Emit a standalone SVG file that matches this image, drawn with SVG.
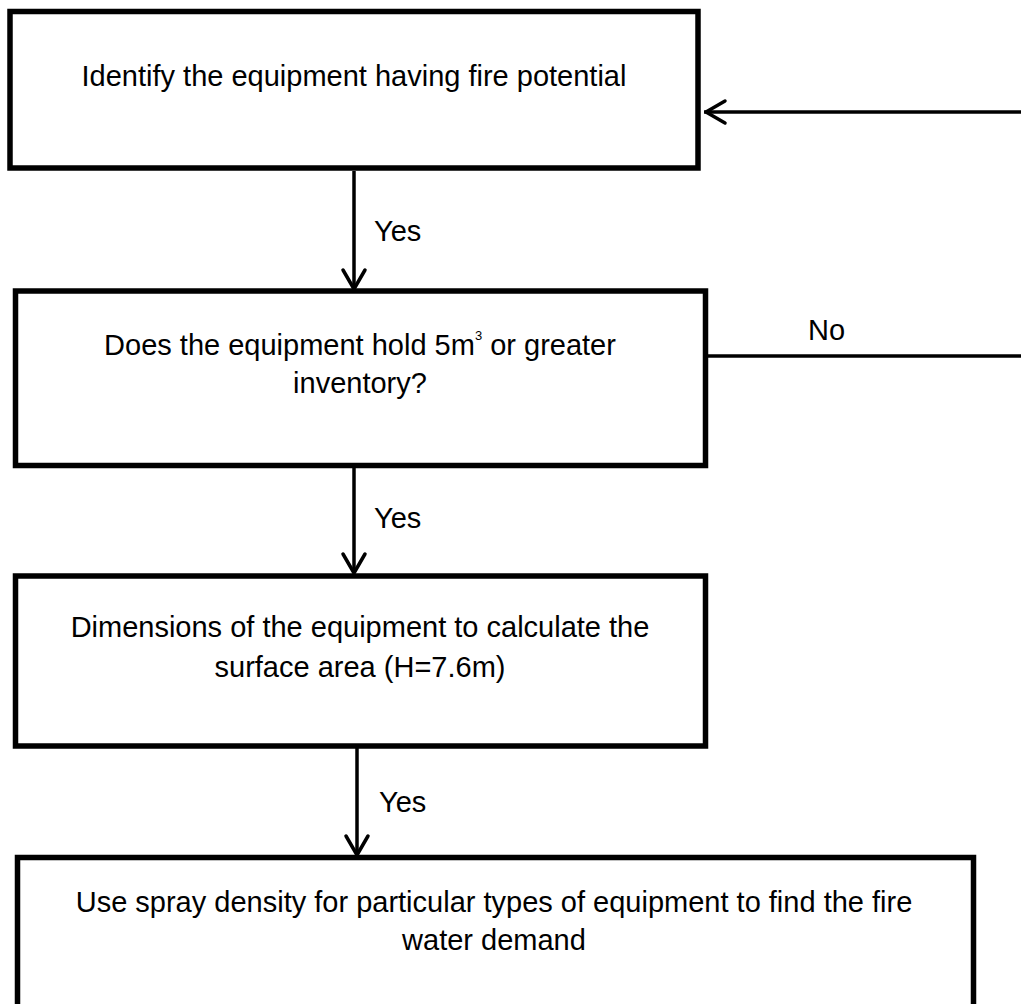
<svg xmlns="http://www.w3.org/2000/svg" width="1021" height="1004" viewBox="0 0 1021 1004">
<style>
.box{fill:#fff;stroke:#000;stroke-width:5.5}
.t{font-family:"Liberation Sans",Arial,sans-serif;font-size:29px;fill:#000}
.c{text-anchor:middle}
.ln{fill:none;stroke:#000;stroke-width:3.5}
.ah{fill:none;stroke:#000;stroke-width:3.5;stroke-linecap:round;stroke-linejoin:round}
</style>
<rect width="1021" height="1004" fill="#fff"/>
<g id="connectors">
<line class="ln" x1="354" y1="171" x2="354" y2="289"/>
<polyline class="ah" points="343,270 354,289 365,270"/>
<text class="t" x="374" y="241">Yes</text>
<line class="ln" x1="354" y1="468" x2="354" y2="573"/>
<polyline class="ah" points="343,554 354,573 365,554"/>
<text class="t" x="374" y="528">Yes</text>
<line class="ln" x1="357" y1="748" x2="357" y2="855"/>
<polyline class="ah" points="346,836 357,855 368,836"/>
<text class="t" x="379" y="812">Yes</text>
<line class="ln" x1="708" y1="356" x2="1021" y2="356"/>
<text class="t" x="808" y="340">No</text>
<line class="ln" x1="1021" y1="112" x2="704" y2="112"/>
<polyline class="ah" points="725,101 706,112 725,123"/>
</g>
<g id="n1">
<rect class="box" x="10" y="11.5" width="688" height="156.5"/>
<text class="t c" x="354" y="86">Identify the equipment having fire potential</text>
</g>
<g id="n2">
<rect class="box" x="15.5" y="291" width="690" height="174.5"/>
<text class="t c" x="360" y="355">Does the equipment hold 5m<tspan font-size="13" dy="-15">3</tspan><tspan dy="15"> or greater</tspan></text>
<text class="t c" x="360" y="393">inventory?</text>
</g>
<g id="n3">
<rect class="box" x="15.5" y="576" width="690" height="170"/>
<text class="t c" x="360" y="637">Dimensions of the equipment to calculate the</text>
<text class="t c" x="360" y="677">surface area (H=7.6m)</text>
</g>
<g id="n4">
<rect class="box" x="17.5" y="857.5" width="956" height="160"/>
<text class="t c" x="494" y="912">Use spray density for particular types of equipment to find the fire</text>
<text class="t c" x="494" y="950">water demand</text>
</g>
</svg>
